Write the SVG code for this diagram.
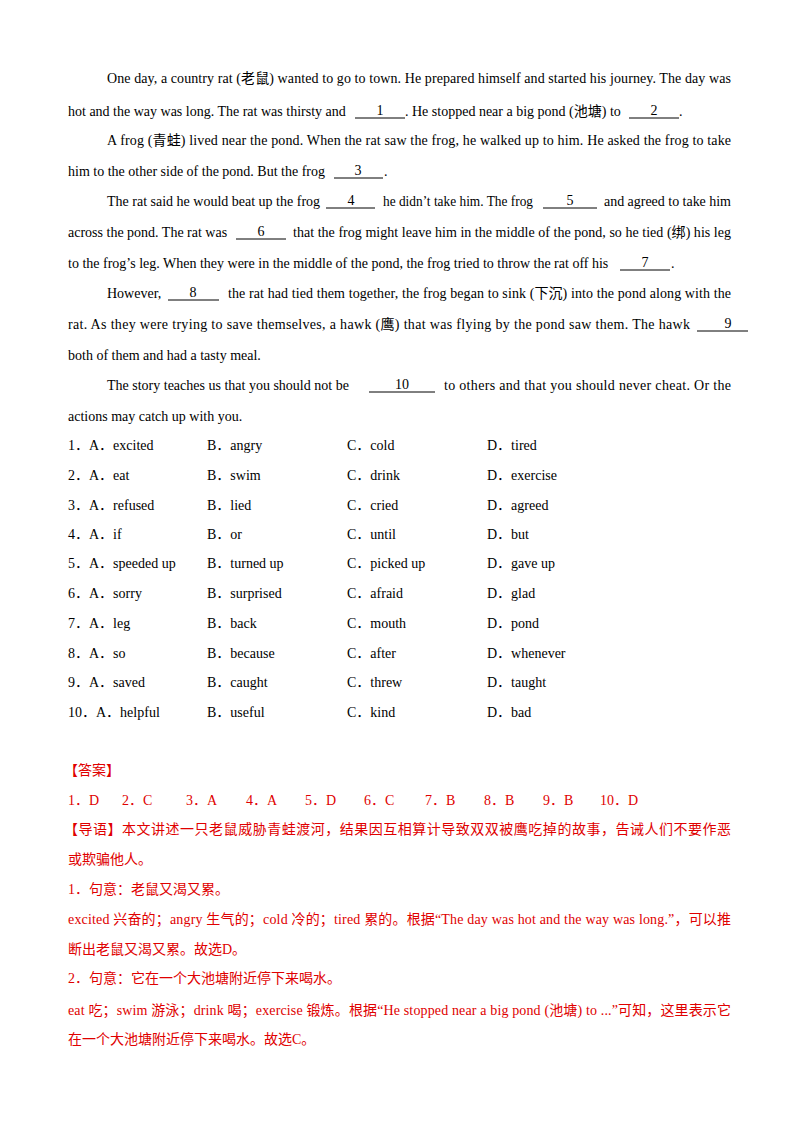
<svg xmlns="http://www.w3.org/2000/svg" width="800" height="1132" viewBox="0 0 800 1132">
<style>
text{font-family:"Liberation Serif","Noto Sans CJK SC",serif;font-size:14px;fill:#000}
.r{fill:#e00000}
.c{text-anchor:middle}
line{stroke:#000;stroke-width:1}
</style>
<rect width="800" height="1132" fill="#fff"/>
<g id="passage">
<text x="107" y="83" textLength="624" lengthAdjust="spacing">One day, a country rat (老鼠) wanted to go to town. He prepared himself and started his journey. The day was</text>
<text x="68" y="116">hot and the way was long. The rat was thirsty and</text>
<line x1="355" y1="118" x2="405" y2="118"/><text class="c" x="380" y="115">1</text>
<text x="405" y="116">. He stopped near a big pond (池塘) to</text>
<line x1="629" y1="118" x2="679" y2="118"/><text class="c" x="654" y="115">2</text>
<text x="679" y="116">.</text>
<text x="107" y="145" textLength="624" lengthAdjust="spacing">A frog (青蛙) lived near the pond. When the rat saw the frog, he walked up to him. He asked the frog to take</text>
<text x="68" y="176">him to the other side of the pond. But the frog</text>
<line x1="334" y1="178" x2="383" y2="178"/><text class="c" x="358" y="175">3</text>
<text x="384" y="176">.</text>
<text x="107" y="206">The rat said he would beat up the frog</text>
<line x1="326" y1="208" x2="375" y2="208"/><text class="c" x="351" y="205">4</text>
<text x="383" y="206" textLength="150" lengthAdjust="spacingAndGlyphs">he didn’t take him. The frog</text>
<line x1="543" y1="208" x2="597" y2="208"/><text class="c" x="570" y="205">5</text>
<text x="604" y="206" textLength="127" lengthAdjust="spacing">and agreed to take him</text>
<text x="68" y="237">across the pond. The rat was</text>
<line x1="236" y1="239" x2="286" y2="239"/><text class="c" x="261" y="236">6</text>
<text x="293" y="237" textLength="438" lengthAdjust="spacing">that the frog might leave him in the middle of the pond, so he tied (绑) his leg</text>
<text x="68" y="268">to the frog’s leg. When they were in the middle of the pond, the frog tried to throw the rat off his</text>
<line x1="620" y1="270" x2="670" y2="270"/><text class="c" x="645" y="267">7</text>
<text x="671" y="268">.</text>
<text x="107" y="298">However,</text>
<line x1="168" y1="300" x2="219" y2="300"/><text class="c" x="193" y="297">8</text>
<text x="228" y="298" textLength="503" lengthAdjust="spacing">the rat had tied them together, the frog began to sink (下沉) into the pond along with the</text>
<text x="68" y="329" textLength="622" lengthAdjust="spacing">rat. As they were trying to save themselves, a hawk (鹰) that was flying by the pond saw them. The hawk</text>
<line x1="697" y1="331" x2="748" y2="331"/><text class="c" x="728" y="328">9</text>
<text x="68" y="360">both of them and had a tasty meal.</text>
<text x="107" y="390">The story teaches us that you should not be</text>
<line x1="369" y1="392" x2="435" y2="392"/><text class="c" x="402" y="389">10</text>
<text x="444" y="390" textLength="287" lengthAdjust="spacing">to others and that you should never cheat. Or the</text>
<text x="68" y="421">actions may catch up with you.</text>
</g>
<g id="options">
<text x="68" y="450">1．A．excited</text><text x="207" y="450">B．angry</text><text x="347" y="450">C．cold</text><text x="487" y="450">D．tired</text>
<text x="68" y="480">2．A．eat</text><text x="207" y="480">B．swim</text><text x="347" y="480">C．drink</text><text x="487" y="480">D．exercise</text>
<text x="68" y="510">3．A．refused</text><text x="207" y="510">B．lied</text><text x="347" y="510">C．cried</text><text x="487" y="510">D．agreed</text>
<text x="68" y="539">4．A．if</text><text x="207" y="539">B．or</text><text x="347" y="539">C．until</text><text x="487" y="539">D．but</text>
<text x="68" y="568">5．A．speeded up</text><text x="207" y="568">B．turned up</text><text x="347" y="568">C．picked up</text><text x="487" y="568">D．gave up</text>
<text x="68" y="598">6．A．sorry</text><text x="207" y="598">B．surprised</text><text x="347" y="598">C．afraid</text><text x="487" y="598">D．glad</text>
<text x="68" y="628">7．A．leg</text><text x="207" y="628">B．back</text><text x="347" y="628">C．mouth</text><text x="487" y="628">D．pond</text>
<text x="68" y="658">8．A．so</text><text x="207" y="658">B．because</text><text x="347" y="658">C．after</text><text x="487" y="658">D．whenever</text>
<text x="68" y="687">9．A．saved</text><text x="207" y="687">B．caught</text><text x="347" y="687">C．threw</text><text x="487" y="687">D．taught</text>
<text x="68" y="717">10．A．helpful</text><text x="207" y="717">B．useful</text><text x="347" y="717">C．kind</text><text x="487" y="717">D．bad</text>
</g>
<g id="answers">
<text class="r" x="64" y="775">【答案】</text>
<text class="r" x="68" y="805">1．D</text><text class="r" x="122" y="805">2．C</text><text class="r" x="186" y="805">3．A</text><text class="r" x="246" y="805">4．A</text><text class="r" x="305" y="805">5．D</text><text class="r" x="364" y="805">6．C</text><text class="r" x="425" y="805">7．B</text><text class="r" x="484" y="805">8．B</text><text class="r" x="543" y="805">9．B</text><text class="r" x="600" y="805">10．D</text>
<text class="r" x="64" y="834" textLength="667" lengthAdjust="spacing">【导语】本文讲述一只老鼠威胁青蛙渡河，结果因互相算计导致双双被鹰吃掉的故事，告诫人们不要作恶</text>
<text class="r" x="68" y="864">或欺骗他人。</text>
<text class="r" x="68" y="894">1．句意：老鼠又渴又累。</text>
<text class="r" x="68" y="924" textLength="663" lengthAdjust="spacing">excited 兴奋的；angry 生气的；cold 冷的；tired 累的。根据“The day was hot and the way was long.”，可以推</text>
<text class="r" x="68" y="954">断出老鼠又渴又累。故选D。</text>
<text class="r" x="68" y="983">2．句意：它在一个大池塘附近停下来喝水。</text>
<text class="r" x="68" y="1015" textLength="663" lengthAdjust="spacing">eat 吃；swim 游泳；drink 喝；exercise 锻炼。根据“He stopped near a big pond (池塘) to ...”可知，这里表示它</text>
<text class="r" x="68" y="1044">在一个大池塘附近停下来喝水。故选C。</text>
</g>
</svg>
